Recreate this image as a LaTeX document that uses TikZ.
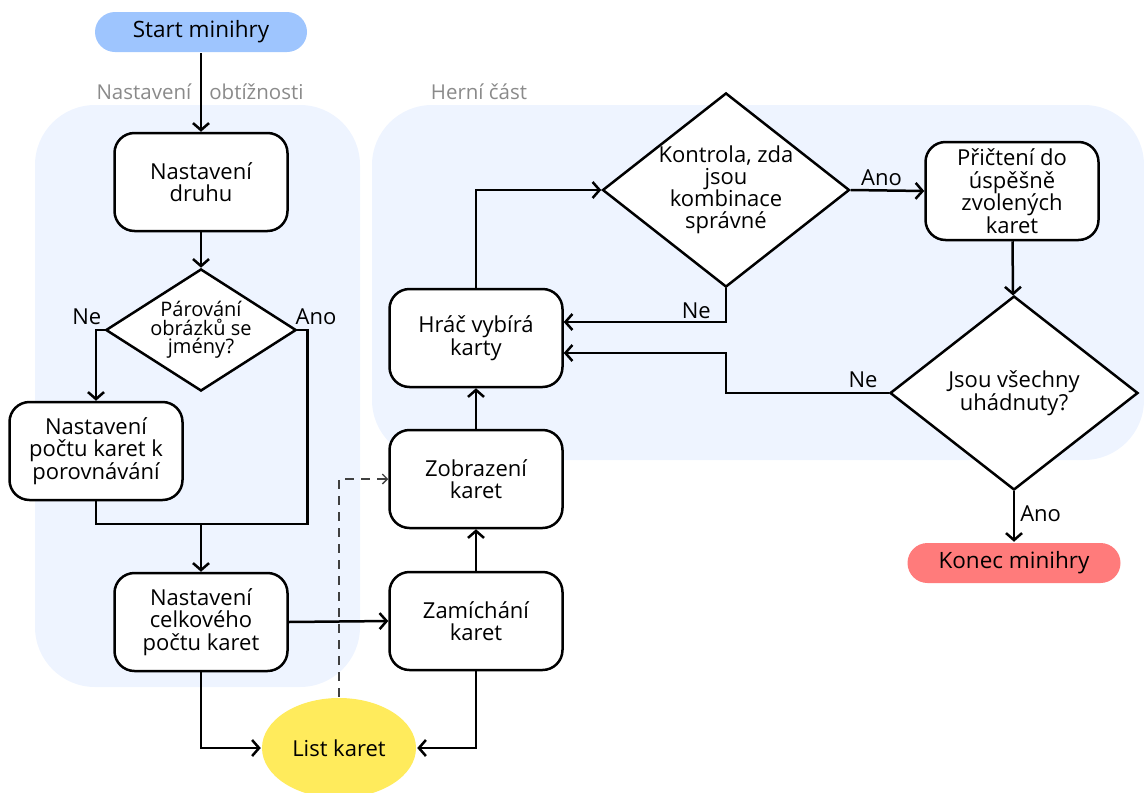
\documentclass[tikz,border=0pt]{standalone}
\usepackage{fontspec}
\setmainfont{Open Sans}
\usetikzlibrary{arrows.meta,shapes.geometric,positioning}
\definecolor{panelbg}{HTML}{EEF4FF}
\definecolor{startfill}{HTML}{9EC5FE}
\definecolor{endfill}{HTML}{FF7B7B}
\definecolor{listfill}{HTML}{FFEB5C}
\definecolor{titlegray}{HTML}{8A8A8A}
\begin{document}
\begin{tikzpicture}[x=1pt,y=-1pt,
  >={Straight Barb[length=7pt,width=16pt]},
  every path/.style={line width=2.5pt},
  proc/.style={draw,rectangle,rounded corners=20pt,minimum width=173pt,minimum height=98pt,
    align=center,fill=white,font=\fontsize{22}{22.5}\selectfont},
  decision/.style={draw,diamond,inner sep=0pt,align=center,fill=white,font=\fontsize{22}{22}\selectfont},
  term/.style={rectangle,rounded corners=20pt,minimum width=212pt,minimum height=40pt,
    font=\fontsize{22.5}{22}\selectfont},
  panel/.style={fill=panelbg,rounded corners=60pt},
  grouptitle/.style={text=titlegray,font=\fontsize{20.5}{20}\selectfont},
  edgelabel/.style={inner sep=2pt,font=\fontsize{22}{22}\selectfont}]
\useasboundingbox (0,0) rectangle (1144,793);

% Background panels
\fill[panel] (35,105) rectangle (360,687);
\fill[panel] (372,105) rectangle (1144,460);
\node[grouptitle] (tnast) at (200,92) {Nastavení\hspace{18pt}obtížnosti};
\node[grouptitle] (therni) at (479,92) {Herní část};

% Nodes
\node[term,fill=startfill] (start) at (201,32) {Start minihry};
\node[proc] (druh) at (201,182) {Nastavení\\druhu};
\node[decision,aspect=1.56,minimum width=187pt,minimum height=120pt,
  font=\fontsize{20}{18.5}\selectfont] (par) at (201,330) {Párování\\obrázků se\\jmény?};
\node[proc] (pocet) at (96,451) {Nastavení\\počtu karet k\\porovnávání};
\node[proc] (celk) at (201,622) {Nastavení\\celkového\\počtu karet};
\node[ellipse,fill=listfill,minimum width=154pt,minimum height=100pt,
  font=\fontsize{22}{22}\selectfont] (list) at (339,748) {List karet};
\node[proc] (zam) at (476,621) {Zamíchání\\karet};
\node[proc] (zob) at (476,479) {Zobrazení\\karet};
\node[proc] (hrac) at (476,338) {Hráč vybírá\\karty};
\node[decision,aspect=1.27,minimum width=247pt,minimum height=194pt] (kontr) at (726,190)
  {Kontrola, zda\\jsou\\kombinace\\správné};
\node[proc] (pric) at (1012,191) {Přičtení do\\úspěšně\\zvolených\\karet};
\node[decision,aspect=1.28,minimum width=248pt,minimum height=194pt] (vse) at (1014,393)
  {Jsou všechny\\uhádnuty?};
\node[term,fill=endfill,minimum width=213pt] (konec) at (1014,563) {Konec minihry};

% Connectors
\coordinate (spoj) at (201,524);
\draw[->] (start) -- (druh);
\draw[->] (druh) -- (par);
\draw[->] (par.west) -| node[edgelabel,pos=0,above left,yshift=2pt] (ne1) {Ne} (pocet.north);
\draw (par.east) -- node[edgelabel,pos=0,above right,xshift=-5pt,yshift=2pt] (ano1) {Ano}
  ++(10,0) |- (spoj);
\draw (pocet.south) |- (spoj);
\draw[->] (spoj) -- (celk.north);
\draw[->] (celk.south) |- (list.west);
\draw[->] (celk.east) -- (zam.west);
\draw[->] (zam.south) |- (list.east);
\draw[->] (zam) -- (zob);
\draw[->,line width=1.3pt,draw=black!75,dash pattern=on 9pt off 7pt,
  >={Straight Barb[length=5pt,width=10pt]}] (list.north) |- (zob.west);
\draw[->] (zob) -- (hrac);
\draw[->] (hrac.north) |- (kontr.west);
\draw[->] (kontr.south) |- node[edgelabel,pos=0.5,above left,xshift=-12pt] (ne2) {Ne}
  ([yshift=16pt]hrac.east);
\draw[->] (kontr.east) -- node[edgelabel,midway,above,xshift=-6pt,yshift=2pt] (ano2) {Ano} (pric.west);
\draw[->] (pric) -- (vse);
\draw[->] (vse.west) -- node[edgelabel,pos=0,above left,xshift=-8pt,yshift=2pt] (ne3) {Ne}
  ++(-163,0) |- ([yshift=-15pt]hrac.east);
\draw[->] (vse.south) -- node[edgelabel,midway,right,xshift=3pt,yshift=3pt] (ano3) {Ano} (konec.north);
\end{tikzpicture}
\end{document}
